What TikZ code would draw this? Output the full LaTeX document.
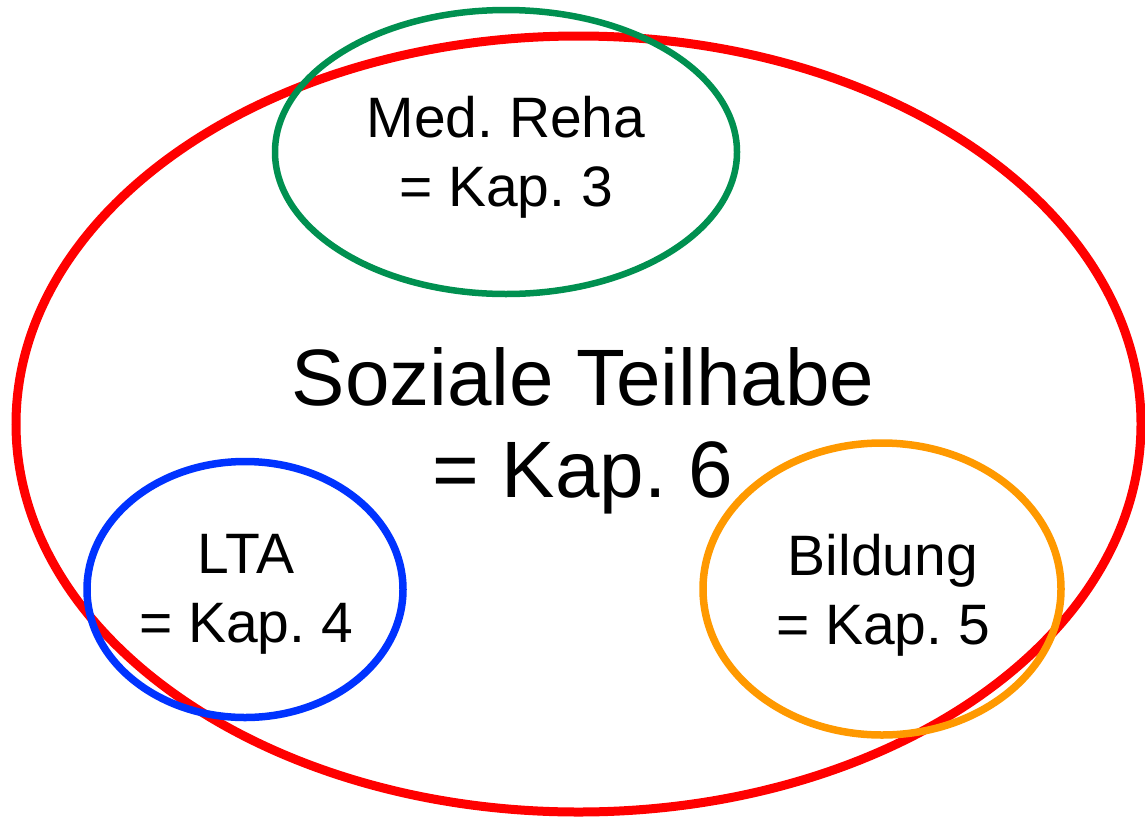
\documentclass[tikz,border=0pt]{standalone}
\usepackage{fontspec}
\setmainfont{Liberation Sans}
\usetikzlibrary{shapes.geometric}
\definecolor{kapred}{RGB}{255,0,0}
\definecolor{kapgreen}{RGB}{0,144,80}
\definecolor{kapblue}{RGB}{0,51,255}
\definecolor{kaporange}{RGB}{255,153,0}
\tikzstyle{ring} = [ellipse, draw, inner sep=0pt, line width=7.5pt]
\tikzstyle{smalltext} = [align=center, inner sep=0pt, font=\fontsize{57}{69}\selectfont]
\tikzstyle{bigtext} = [align=center, inner sep=0pt, font=\fontsize{80}{92}\selectfont]
\frenchspacing

\begin{document}
\begin{tikzpicture}[x=1pt, y=-1pt]
    \useasboundingbox (0,0) rectangle (1145,817);
    \node [ring, draw=kapred, line width=9pt,
      minimum width=1125pt, minimum height=776pt] (teilhabe) at (578.5,424) {};
    \node [ring, draw=kapgreen, line width=6.5pt,
      minimum width=462pt, minimum height=284pt] (reha) at (506,152) {};
    \node [ring, draw=kapblue,
      minimum width=316pt, minimum height=256pt] (lta) at (245,589.5) {};
    \node [ring, draw=kaporange,
      minimum width=358pt, minimum height=292pt] (bildung) at (882,589) {};
    \node [bigtext] (teilhabetext) at (583,431) {Soziale Teilhabe\\= Kap. 6};
    \node [smalltext] (rehatext) at (506,157.5) {Med. Reha\\= Kap. 3};
    \node [smalltext] (ltatext) at (246,594.5) {LTA\\= Kap. 4};
    \node [smalltext] (bildungtext) at (883,595) {Bildung\\= Kap. 5};
  \end{tikzpicture}
\end{document}
